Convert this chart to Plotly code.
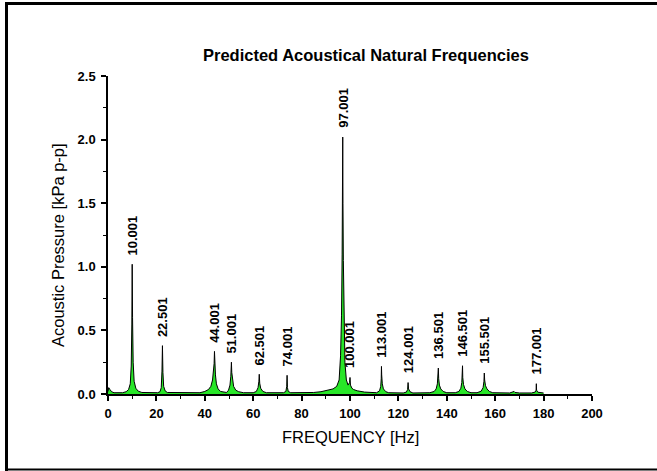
import plotly.graph_objects as go

# Spectrum (frequency in Hz, pressure in kPa p-p)
freq_hz = [
    0, 0.3, 0.8, 1.5, 2.5, 4,
    6, 7.5, 8.5, 9.2, 9.6, 9.85, 10.0, 10.15, 10.4, 10.8, 11.5, 12.5, 14,
    20.5, 21.5, 22.0, 22.3, 22.5, 22.7, 23.0, 23.6, 24.5,
    38, 40, 41.5, 42.5, 43.2, 43.6, 43.85, 44.0, 44.15, 44.4, 44.8, 45.5, 46.5, 48,
    49, 49.8, 50.4, 50.75, 50.9, 51.0, 51.15, 51.4, 51.9, 52.8, 54, 56,
    60, 61.3, 62.0, 62.35, 62.5, 62.7, 63.1, 64, 65.5,
    72.5, 73.5, 73.85, 74.0, 74.15, 74.5, 75.5,
    78, 85, 88, 91, 93, 94.5, 95.5, 96.1, 96.5, 96.75, 96.9, 97.0, 97.1, 97.25,
    97.5, 97.9, 98.5, 99.2, 99.8, 100.0, 100.2, 100.8, 101.5, 103, 106, 110,
    111, 112.2, 112.7, 112.9, 113.0, 113.1, 113.35, 113.8, 114.8, 116,
    122, 123.3, 123.8, 124.0, 124.2, 124.8, 126,
    133, 134.8, 135.6, 136.1, 136.35, 136.5, 136.65, 136.95, 137.5, 138.5, 140,
    143.5, 145.0, 145.8, 146.2, 146.4, 146.5, 146.6, 146.9, 147.5, 148.5, 150,
    152.5, 154.2, 155.0, 155.35, 155.5, 155.65, 156.0, 156.6, 157.6, 159,
    166, 167.8, 168.2, 170,
    175, 176.5, 176.9, 177.0, 177.1, 177.6, 179, 180,
]
pressure_kpa = [
    0.02, 0.05, 0.035, 0.018, 0.01, 0.008,
    0.01, 0.018, 0.035, 0.08, 0.22, 0.55, 1.02, 0.60, 0.25, 0.10, 0.045, 0.022, 0.012,
    0.01, 0.018, 0.05, 0.18, 0.38, 0.17, 0.06, 0.025, 0.012,
    0.01, 0.02, 0.035, 0.06, 0.11, 0.17, 0.24, 0.335, 0.22, 0.15, 0.08, 0.04, 0.02, 0.012,
    0.012, 0.03, 0.07, 0.14, 0.19, 0.25, 0.17, 0.11, 0.06, 0.03, 0.018, 0.01,
    0.01, 0.02, 0.05, 0.10, 0.155, 0.085, 0.045, 0.02, 0.01,
    0.01, 0.02, 0.06, 0.147, 0.05, 0.02, 0.01,
    0.01, 0.012, 0.018, 0.028, 0.04, 0.06, 0.11, 0.30, 0.62, 1.10, 1.55, 2.02, 1.50, 1.05,
    0.55, 0.25, 0.11, 0.07, 0.09, 0.13, 0.07, 0.045, 0.035, 0.025, 0.015, 0.01,
    0.01, 0.025, 0.06, 0.12, 0.217, 0.15, 0.08, 0.04, 0.018, 0.01,
    0.008, 0.015, 0.035, 0.09, 0.04, 0.018, 0.008,
    0.01, 0.02, 0.04, 0.08, 0.13, 0.204, 0.12, 0.07, 0.04, 0.02, 0.01,
    0.01, 0.02, 0.045, 0.09, 0.14, 0.222, 0.13, 0.075, 0.04, 0.02, 0.01,
    0.01, 0.022, 0.05, 0.10, 0.165, 0.11, 0.065, 0.04, 0.02, 0.01,
    0.008, 0.02, 0.012, 0.008,
    0.008, 0.015, 0.03, 0.081, 0.03, 0.014, 0.008, 0.008,
]

# Labelled peaks
peak_freqs = [10.0, 22.5, 44.0, 51.0, 62.5, 74.0, 97.0, 100.0, 113.0, 124.0,
              136.5, 146.5, 155.5, 177.0]
peak_heights = [1.02, 0.38, 0.335, 0.25, 0.155, 0.147, 2.02, 0.13, 0.217, 0.09,
                0.204, 0.222, 0.165, 0.081]
peak_labels = ["10.001", "22.501", "44.001", "51.001", "62.501", "74.001", "97.001",
               "100.001", "113.001", "124.001", "136.501", "146.501", "155.501",
               "177.001"]

x_ticks = [0, 20, 40, 60, 80, 100, 120, 140, 160, 180, 200]
y_ticks = [0.0, 0.5, 1.0, 1.5, 2.0, 2.5]

FONT = "Liberation Sans, Arial, sans-serif"
W, H = 657, 471
L, R, T, B = 108, 65, 76, 77
PW, PH = W - L - R, H - T - B


def px(xp):
    return (xp - L) / PW


def py(yp):
    return (H - B - yp) / PH


fig = go.Figure()
fig.add_trace(go.Scatter(
    x=freq_hz, y=pressure_kpa, mode="lines",
    line=dict(color="black", width=1),
    fill="tozeroy", fillcolor="rgb(40,230,40)",
    showlegend=False, hoverinfo="x+y",
))

annotations = []
for f, h, lab in zip(peak_freqs, peak_heights, peak_labels):
    annotations.append(dict(
        x=f, y=h, xref="x", yref="y", text=lab, showarrow=False,
        textangle=-90, xanchor="center", yanchor="bottom", yshift=7,
        font=dict(family=FONT, size=13, color="black", weight="bold"),
    ))

annotations.append(dict(
    x=px(366), y=py(55), xref="paper", yref="paper", showarrow=False,
    text="<b>Predicted Acoustical Natural Frequencies</b>",
    xanchor="center", yanchor="middle",
    font=dict(family=FONT, size=16.5, color="black"),
))
annotations.append(dict(
    x=px(350), y=py(437), xref="paper", yref="paper", showarrow=False,
    text="FREQUENCY [Hz]", xanchor="center", yanchor="middle",
    font=dict(family=FONT, size=16.5, color="black"),
))
annotations.append(dict(
    x=px(58), y=py(245), xref="paper", yref="paper", showarrow=False,
    text="Acoustic Pressure [kPa p-p]", textangle=-90,
    xanchor="center", yanchor="middle",
    font=dict(family=FONT, size=16.5, color="black"),
))

shapes = [
    dict(type="line", xref="paper", yref="paper",
         x0=px(6.5), x1=px(6.5), y0=py(471), y1=py(2), line=dict(color="black", width=3)),
    dict(type="line", xref="paper", yref="paper",
         x0=px(5), x1=px(657), y0=py(3.5), y1=py(3.5), line=dict(color="black", width=3)),
    dict(type="line", xref="paper", yref="paper",
         x0=px(5), x1=px(657), y0=py(469.5), y1=py(469.5), line=dict(color="black", width=2)),
]

axis_font = dict(family=FONT, size=13, color="black", weight="bold")
fig.update_layout(
    width=W, height=H,
    margin=dict(l=L, r=R, t=T, b=B, pad=0),
    paper_bgcolor="white", plot_bgcolor="white",
    annotations=annotations, shapes=shapes,
    xaxis=dict(
        range=[0, 200], tickvals=x_ticks, ticktext=[str(v) for v in x_ticks],
        showline=True, linecolor="black", linewidth=1.5,
        ticks="outside", ticklen=5, tickwidth=1.5, tickcolor="black",
        minor=dict(ticks="outside", ticklen=3, dtick=10, tickcolor="black", tickwidth=1.2),
        showgrid=False, zeroline=False, tickfont=axis_font, ticklabelstandoff=2,
    ),
    yaxis=dict(
        range=[0, 2.5], tickvals=y_ticks, ticktext=[f"{v:.1f}" for v in y_ticks],
        showline=True, linecolor="black", linewidth=1.5,
        ticks="outside", ticklen=5, tickwidth=1.5, tickcolor="black",
        minor=dict(ticks="outside", ticklen=3, dtick=0.25, tickcolor="black", tickwidth=1.2),
        showgrid=False, zeroline=False, tickfont=axis_font, ticklabelstandoff=3,
    ),
)

fig.write_html("out.html")
